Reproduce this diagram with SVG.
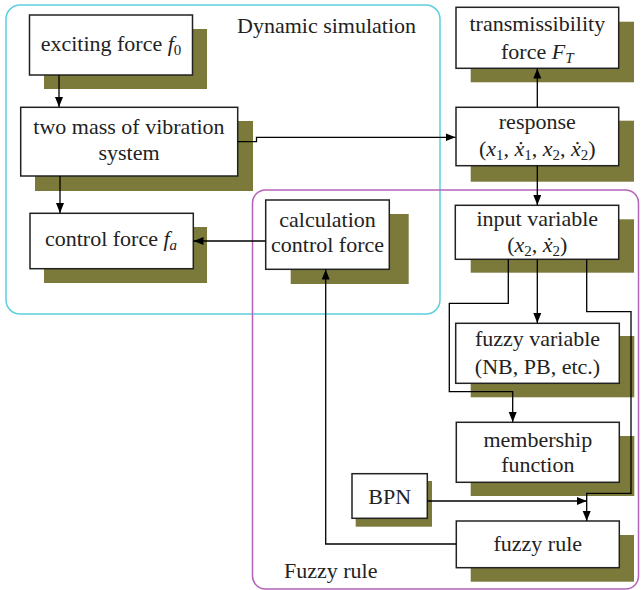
<svg xmlns="http://www.w3.org/2000/svg" width="642" height="590" viewBox="0 0 642 590">
  <defs>
    <marker id="arrow" markerUnits="userSpaceOnUse" markerWidth="11" markerHeight="9" refX="10" refY="4" orient="auto">
      <path d="M0,0 L10,4 L0,8 z" fill="#000"/>
    </marker>
    <style>
      .shadow { fill: #7b7a3b; }
      .box { fill: #fff; stroke: #222; stroke-width: 1.5; }
      .lbl { font-family: "Liberation Serif", "Times New Roman", serif; font-size: 22px; fill: #222; text-anchor: middle; }
      .cap { font-family: "Liberation Serif", "Times New Roman", serif; font-size: 22px; fill: #222; }
      .it { font-style: italic; }
      .sub { font-size: 15px; }
      .conn { fill: none; stroke: #000; stroke-width: 1.3; }
      .arr { marker-end: url(#arrow); }
    </style>
  </defs>

  <!-- grouping frames -->
  <g id="dynamic-simulation">
    <rect x="6" y="5" width="434" height="309" rx="14" fill="none" stroke="#5cd0de" stroke-width="1.5"/>
    <text class="cap" x="237" y="33">Dynamic simulation</text>
  </g>
  <g id="fuzzy-rule-frame">
    <rect x="252.5" y="190" width="386" height="399" rx="13" fill="none" stroke="#b463b8" stroke-width="1.5"/>
    <text class="cap" x="284" y="578">Fuzzy rule</text>
  </g>

  <!-- nodes -->
  <g id="exciting-force">
    <rect class="shadow" x="44" y="29" width="163" height="60"/>
    <rect class="box" x="29.5" y="15" width="163" height="60"/>
    <text class="lbl" x="111" y="51">exciting force <tspan class="it">f</tspan><tspan class="sub" dy="4">0</tspan></text>
  </g>
  <g id="two-mass">
    <rect class="shadow" x="35" y="121" width="218" height="70"/>
    <rect class="box" x="20.7" y="107.3" width="217" height="68.7"/>
    <text class="lbl" x="129" y="134">two mass of vibration</text>
    <text class="lbl" x="129" y="160">system</text>
  </g>
  <g id="control-force">
    <rect class="shadow" x="44" y="227" width="163" height="56"/>
    <rect class="box" x="30" y="213.3" width="163.3" height="55.4"/>
    <text class="lbl" x="111" y="246">control force <tspan class="it">f</tspan><tspan class="sub it" dy="4">a</tspan></text>
  </g>
  <g id="calc-control-force">
    <rect class="shadow" x="290.7" y="214" width="118" height="70"/>
    <rect class="box" x="265.7" y="200" width="123.6" height="69.3"/>
    <text class="lbl" x="327.5" y="227">calculation</text>
    <text class="lbl" x="327.5" y="252">control force</text>
  </g>
  <g id="transmissibility">
    <rect class="shadow" x="470.7" y="21.7" width="163.3" height="60.6"/>
    <rect class="box" x="456" y="7.3" width="162.7" height="61"/>
    <text class="lbl" x="537.3" y="31">transmissibility</text>
    <text class="lbl" x="537.3" y="59">force <tspan class="it">F</tspan><tspan class="sub it" dy="4">T</tspan></text>
  </g>
  <g id="response">
    <rect class="shadow" x="470.7" y="120.7" width="163.3" height="61"/>
    <rect class="box" x="456" y="107.3" width="162.7" height="58.4"/>
    <text class="lbl" x="537.3" y="129">response</text>
    <text class="lbl" x="537.3" y="156">(<tspan class="it">x</tspan><tspan class="sub" dy="4">1</tspan><tspan dy="-4">, </tspan><tspan class="it">ẋ</tspan><tspan class="sub" dy="4">1</tspan><tspan dy="-4">, </tspan><tspan class="it">x</tspan><tspan class="sub" dy="4">2</tspan><tspan dy="-4">, </tspan><tspan class="it">ẋ</tspan><tspan class="sub" dy="4">2</tspan><tspan dy="-4">)</tspan></text>
  </g>
  <g id="input-variable">
    <rect class="shadow" x="470.7" y="219.3" width="163.3" height="53.4"/>
    <rect class="box" x="455.3" y="205.3" width="163.4" height="54"/>
    <text class="lbl" x="537.3" y="226">input variable</text>
    <text class="lbl" x="537.3" y="252">(<tspan class="it">x</tspan><tspan class="sub" dy="4">2</tspan><tspan dy="-4">, </tspan><tspan class="it">ẋ</tspan><tspan class="sub" dy="4">2</tspan><tspan dy="-4">)</tspan></text>
  </g>
  <g id="fuzzy-variable">
    <rect class="shadow" x="470.7" y="336" width="163.6" height="61.3"/>
    <rect class="box" x="455.7" y="323.3" width="163.6" height="60"/>
    <text class="lbl" x="537.5" y="346">fuzzy variable</text>
    <text class="lbl" x="537.5" y="374">(NB, PB, etc.)</text>
  </g>
  <g id="membership-function">
    <rect class="shadow" x="470.7" y="436" width="163.6" height="60"/>
    <rect class="box" x="456.3" y="422.3" width="163" height="60"/>
    <text class="lbl" x="537.8" y="447">membership</text>
    <text class="lbl" x="537.8" y="472">function</text>
  </g>
  <g id="bpn">
    <rect class="shadow" x="355.7" y="481" width="76.3" height="45.7"/>
    <rect class="box" x="352" y="473.7" width="75.3" height="44.6"/>
    <text class="lbl" x="389.7" y="504">BPN</text>
  </g>
  <g id="fuzzy-rule">
    <rect class="shadow" x="470.7" y="535" width="163.3" height="46.7"/>
    <rect class="box" x="456.3" y="521" width="163" height="46.7"/>
    <text class="lbl" x="537.8" y="551">fuzzy rule</text>
  </g>

  <!-- connectors -->
  <g id="connectors">
    <path class="conn arr" d="M59,75 V107"/>
    <path class="conn arr" d="M60,176 V213"/>
    <path class="conn arr" d="M237.7,141.7 H256.5 V137.3 H455.5"/>
    <path class="conn arr" d="M537.3,107.3 V68.5"/>
    <path class="conn arr" d="M537.3,165.7 V205"/>
    <path class="conn arr" d="M265.7,241 H193.5"/>
    <path class="conn arr" d="M537.3,259.3 V323"/>
    <path class="conn arr" d="M508.3,259.3 V303.3 H449.3 V391.7 H512.7 V422"/>
    <path class="conn arr" d="M586.7,259.3 V311.7 H631 V493.3 H586.7 V521"/>
    <path class="conn arr" d="M427.3,501 H586.7"/>
    <path class="conn arr" d="M456.3,544 H325.7 V269.5"/>
  </g>
</svg>
